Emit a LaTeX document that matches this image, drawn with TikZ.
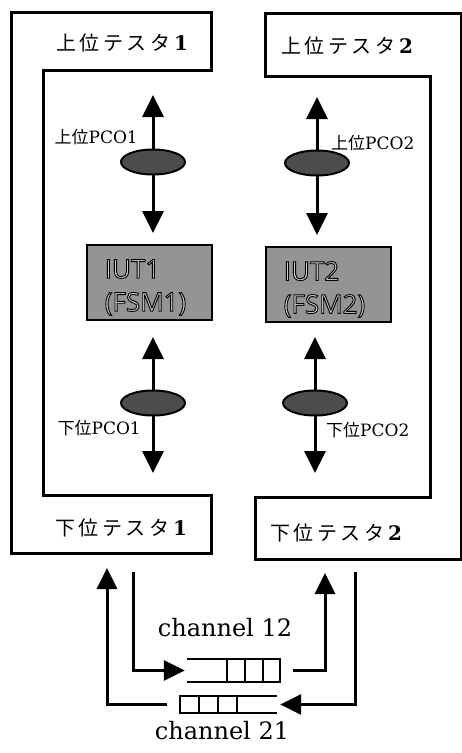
\documentclass[tikz,border=0pt]{standalone}
\usepackage{fontspec}
\setmainfont{DejaVu Serif}
\newfontfamily\jpfont{Noto Sans CJK JP}
\newfontfamily\iutfont{Open Sans}
\usetikzlibrary{arrows.meta,shapes.geometric}

% outlined lettering (light fill, dark stroke) for the IUT boxes
\newcommand\outlinetext[1]{{\color{black!18}\special{pdf:literal direct 0 G 2 Tr 0.9 w}#1\special{pdf:literal direct 0 Tr}}}

\tikzset{
  frame/.style={line width=3pt, line join=miter},
  tester/.style={inner sep=0pt, font=\fontsize{20}{24}\selectfont},
  iut/.style={draw, line width=2.5pt, fill=black!42, minimum width=125pt,
    minimum height=75pt, inner sep=0pt},
  iuttext/.style={inner sep=0pt, align=left,
    font=\iutfont\fontsize{26}{33}\selectfont},
  pco/.style={ellipse, draw, line width=2pt, fill=black!70,
    minimum width=64pt, minimum height=25pt, inner sep=0pt},
  pcolabel/.style={inner sep=0pt, font=\fontsize{17}{20}\selectfont},
  dblarrow/.style={line width=3pt,
    {Triangle[width=21pt,length=22pt]}-{Triangle[width=21pt,length=22pt]}},
  arr/.style={line width=3pt, line join=miter, -{Triangle[width=20pt,length=21pt]}},
  queue/.style={minimum width=#1, inner sep=0pt},
  qline/.style={line width=2.5pt, line join=miter},
  chan/.style={inner sep=0pt, font=\fontsize{24}{28}\selectfont},
}

\newcommand\jp[1]{{\jpfont\addfontfeatures{LetterSpace=18}#1}}

\begin{document}
\begin{tikzpicture}[x=1pt,y=-1pt]
\useasboundingbox (0,0) rectangle (462,753);

% tester frames
\draw[frame] (11,12) -- (211,12) -- (211,70) -- (43,70) -- (43,495)
  -- (211,495) -- (211,553) -- (11,553) -- cycle;
\draw[frame] (265,13) -- (461,13) -- (461,559) -- (255,559) -- (255,497)
  -- (430,497) -- (430,76) -- (265,76) -- cycle;

% tester names
\node[tester] (ut1) at (122,43) {\jp{上位テスタ}\textbf{1}};
\node[tester] (ut2) at (347,46) {\jp{上位テスタ}\textbf{2}};
\node[tester] (lt1) at (121,528) {\jp{下位テスタ}\textbf{1}};
\node[tester] (lt2) at (336,533) {\jp{下位テスタ}\textbf{2}};

% implementations under test
\node[iut] (iut1) at (149.5,282.5) {};
\node[iut] (iut2) at (328.5,284.5) {};
\node[iuttext] (iut1t) at ([xshift=-4pt,yshift=-5pt]iut1.center) {\outlinetext{IUT1}\\\outlinetext{(FSM1)}};
\node[iuttext] (iut2t) at ([xshift=-4pt,yshift=-5pt]iut2.center) {\outlinetext{IUT2}\\\outlinetext{(FSM2)}};

% points of control and observation: arrows first, ellipses on top
\coordinate (pu1a) at (153,95);  \coordinate (pu1b) at (153,233);
\coordinate (pl1a) at (153,337); \coordinate (pl1b) at (153,473);
\coordinate (pu2a) at (317,97);  \coordinate (pu2b) at (317,235);
\coordinate (pl2a) at (315,337); \coordinate (pl2b) at (315,473);

\draw[dblarrow] (pu1a) -- (pu1b);
\draw[dblarrow] (pl1a) -- (pl1b);
\draw[dblarrow] (pu2a) -- (pu2b);
\draw[dblarrow] (pl2a) -- (pl2b);

\node[pco] (pu1) at (153,162) {};
\node[pco] (pl1) at (153,403) {};
\node[pco] (pu2) at (317,163) {};
\node[pco] (pl2) at (315,403) {};

\node[pcolabel, anchor=east] (lu1) at (138,137) {{\jpfont 上位}PCO1};
\node[pcolabel, anchor=west] (lu2) at (331,143) {{\jpfont 上位}PCO2};
\node[pcolabel, anchor=east] (ll1) at (141,428) {{\jpfont 下位}PCO1};
\node[pcolabel, anchor=west] (ll2) at (326,430) {{\jpfont 下位}PCO2};

% channels between the lower testers
\node[queue=93pt, minimum height=23pt] (q12) at (233.5,670.5) {};
\node[queue=97pt, minimum height=17pt] (q21) at (228.5,704.5) {};

\draw[qline] (q12.north west) -- (q12.north east) -- (q12.south east) -- (q12.south west);
\foreach \d in {17,35,53}
  \draw[qline] ([xshift=-\d pt]q12.north east) -- ([xshift=-\d pt]q12.south east);
\draw[qline] (q21.north east) -- (q21.north west) -- (q21.south west) -- (q21.south east);
\foreach \d in {19,38,57}
  \draw[qline] ([xshift=\d pt]q21.north west) -- ([xshift=\d pt]q21.south west);

\coordinate (t1in)  at (107,568);
\coordinate (t1out) at (133,572);
\coordinate (t2in)  at (325,573);
\coordinate (t2out) at (355,572);

\draw[arr] (t1out) |- ([xshift=-2pt]q12.west);
\draw[arr] ([xshift=13pt]q12.east) -| (t2in);
\draw[arr] (t2out) |- ([xshift=3pt]q21.east);
\draw[arr] ([xshift=-13pt]q21.west) -| (t1in);

\node[chan] (c12) at (225,628) {channel 12};
\node[chan] (c21) at (222,731) {channel 21};
\end{tikzpicture}
\end{document}
